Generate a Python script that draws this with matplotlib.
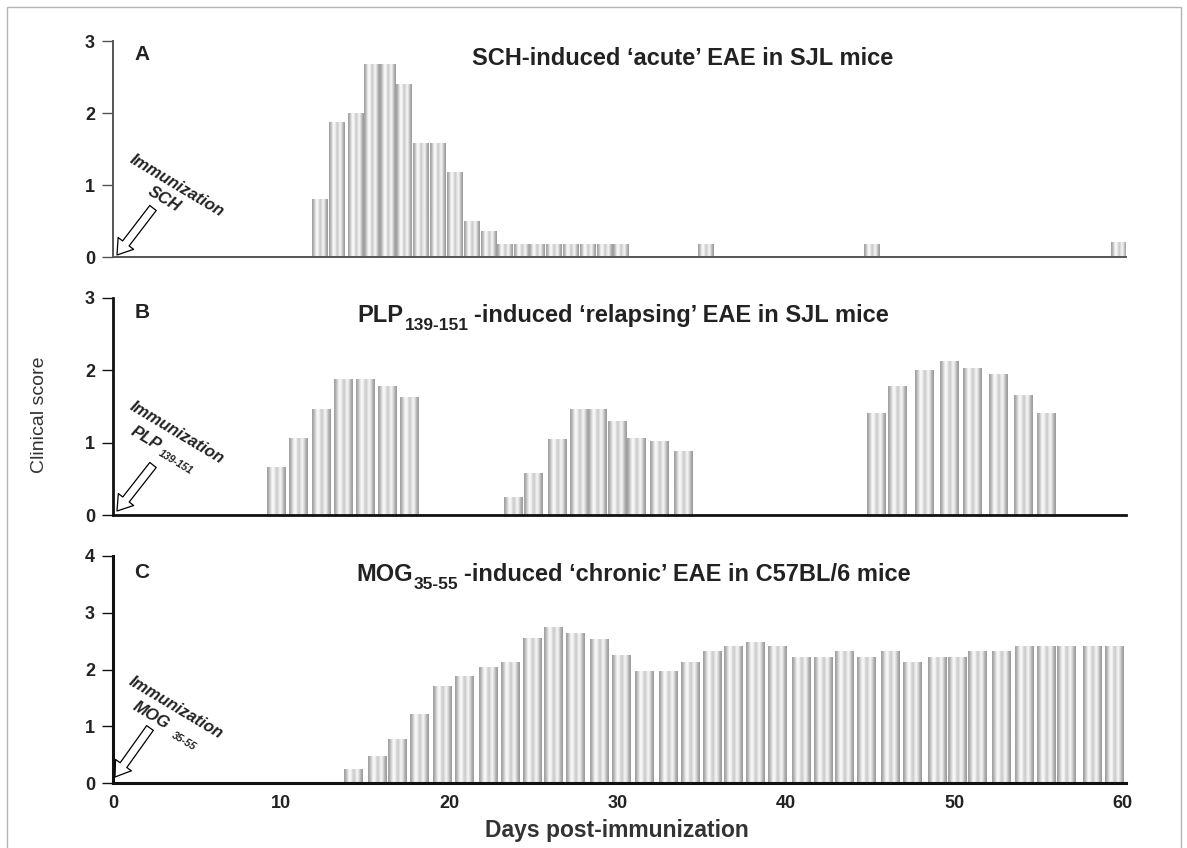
"""Clinical course of three EAE models (SCH acute, PLP relapsing, MOG chronic),
redrawn as three stacked bar panels sharing the day axis."""
import matplotlib
matplotlib.use("Agg")
import matplotlib.pyplot as plt
import numpy as np
from matplotlib.patches import Rectangle
from matplotlib.text import Annotation

# ── data ──────────────────────────────────────────────────────────────────────
# A: SCH-induced acute EAE in SJL mice
a_day = [12.3, 13.3, 14.4, 15.4, 16.3, 17.3, 18.3, 19.3, 20.3, 21.3, 22.3,
         23.3, 24.3, 25.2, 26.2, 27.2, 28.2, 29.2, 30.2, 35.2, 45.1, 59.8]
a_score = [0.8, 1.87, 2.0, 2.68, 2.68, 2.39, 1.58, 1.58, 1.17, 0.5, 0.35,
           0.17, 0.17, 0.17, 0.17, 0.17, 0.17, 0.17, 0.17, 0.17, 0.17, 0.2]

# B: PLP139-151-induced relapsing EAE in SJL mice
b_day = [9.7, 11.0, 12.4, 13.7, 15.0, 16.3, 17.6,
         23.8, 25.0, 26.4, 27.7, 28.8, 30.0, 31.1, 32.5, 33.9,
         45.4, 46.6, 48.2, 49.7, 51.1, 52.6, 54.1, 55.5]
b_score = [0.65, 1.06, 1.46, 1.88, 1.88, 1.78, 1.63,
           0.24, 0.58, 1.05, 1.46, 1.46, 1.29, 1.06, 1.01, 0.88,
           1.41, 1.78, 2.0, 2.12, 2.02, 1.94, 1.65, 1.4]

# C: MOG35-55-induced chronic EAE in C57BL/6 mice
c_day = [14.3, 15.7, 16.9, 18.2, 19.6, 20.9, 22.3, 23.6, 24.9, 26.2, 27.5,
         28.9, 30.2, 31.6, 33.0, 34.3, 35.6, 36.9, 38.2, 39.5, 40.9, 42.2,
         43.5, 44.8, 46.2, 47.5, 49.0, 50.2, 51.4, 52.8, 54.2, 55.5, 56.7,
         58.2, 59.5]
c_score = [0.23, 0.47, 0.76, 1.21, 1.7, 1.87, 2.04, 2.13, 2.54, 2.74, 2.64,
           2.53, 2.24, 1.96, 1.96, 2.13, 2.31, 2.4, 2.48, 2.4, 2.22, 2.22,
           2.31, 2.22, 2.31, 2.13, 2.22, 2.22, 2.31, 2.31, 2.4, 2.4, 2.4,
           2.4, 2.4]

x_ticks = [0, 10, 20, 30, 40, 50, 60]

INK = "#222222"
plt.rcParams.update({"font.family": ["Liberation Sans", "DejaVu Sans"]})

W, H = 1187, 848
# cylinder-like shading across each bar (grey level, left -> right)
SHADE = np.array([[0.64, 0.74, 0.88, 0.97, 0.95, 0.84, 0.80, 0.90, 0.95,
                   0.86, 0.72, 0.62]])


def px_axes(x0, y_bottom, y_top, x1=1125.6):
    """Axes placed by image pixel coordinates (y measured from top)."""
    return fig.add_axes([x0 / W, 1 - y_bottom / H, (x1 - x0) / W,
                         (y_bottom - y_top) / H])


def shaded_bars(ax, days, scores, width):
    for d, s in zip(days, scores):
        ax.imshow(SHADE, cmap="gray", vmin=0, vmax=1, aspect="auto",
                  interpolation="bilinear",
                  extent=(d - width / 2, d + width / 2, 0, s), zorder=2)


def immunization(ax, agent, sub, pos_imm, pos_agent, pos_sub, tail, tip):
    kw = dict(xycoords="axes pixels", rotation=-31, rotation_mode="anchor",
              ha="center", va="center", style="italic", fontweight="bold",
              color=INK)
    ax.annotate("Immunization", xy=pos_imm, fontsize=12, **kw)
    ax.annotate(agent, xy=pos_agent, fontsize=12, **kw)
    if sub:
        ax.annotate(sub, xy=pos_sub, fontsize=7.5, **kw)
    ax.annotate("", xy=tip, xycoords="axes pixels", xytext=tail,
                textcoords="axes pixels",
                arrowprops=dict(arrowstyle="simple,head_length=0.75,"
                                "head_width=1.0,tail_width=0.42",
                                mutation_scale=14, fc="white", ec="black",
                                lw=0.9, shrinkA=0, shrinkB=0))


def style(ax, ymax, spine_color, lw):
    ax.set_xlim(0, 60.2)
    ax.set_ylim(0, ymax)
    ax.set_yticks(range(0, ymax + 1))
    ax.set_xticks(x_ticks)
    for side in ("top", "right"):
        ax.spines[side].set_visible(False)
    for side in ("left", "bottom"):
        ax.spines[side].set_color(spine_color)
        ax.spines[side].set_linewidth(lw)
    ax.tick_params(axis="y", direction="out", length=8, width=1,
                   color=spine_color, pad=5, labelsize=13, labelcolor=INK)
    for t in ax.get_yticklabels():
        t.set_fontweight("bold")
    ax.tick_params(axis="x", length=0, pad=9)


def panel_letter(ax, letter, pos):
    ax.annotate(letter, xy=pos, xycoords="axes pixels", ha="center",
                va="center", fontsize=15, fontweight="bold", color=INK)


fig = plt.figure(figsize=(W / 100, H / 100), dpi=100)
fig.patches.append(Rectangle((7 / W, -0.01), (1181 - 7) / W, 1 - 7 / H + 0.01,
                             transform=fig.transFigure, fill=False,
                             ec="#b5b5b5", lw=1.0))

# ── panel A ───────────────────────────────────────────────────────────────────
axA = px_axes(113, 257, 41)
shaded_bars(axA, a_day, a_score, 0.9)
style(axA, 3, "#555555", 1.4)
axA.set_xticklabels([])
panel_letter(axA, "A", (29, 202))
immunization(axA, "SCH", None, (64, 71), (51, 58), None, (40, 49), (4, 2))

# ── panel B ───────────────────────────────────────────────────────────────────
axB = px_axes(113, 515, 298)
shaded_bars(axB, b_day, b_score, 1.1)
style(axB, 3, "#111111", 2.0)
axB.set_xticklabels([])
panel_letter(axB, "B", (29, 203))
immunization(axB, "PLP", "139-151", (64, 82), (33, 77), (63, 53),
             (40, 50), (4, 4))

# ── panel C ───────────────────────────────────────────────────────────────────
axC = px_axes(113, 783, 556)
shaded_bars(axC, c_day, c_score, 1.1)
style(axC, 4, "#111111", 2.2)
axC.set_xticklabels([str(t) for t in x_ticks], fontweight="bold",
                    fontsize=13, color=INK)
panel_letter(axC, "C", (29, 211))
immunization(axC, "MOG", "35-55", (63, 75), (38, 68), (71, 42),
             (37, 55), (2, 6))

# ── titles (subscripts chained onto the preceding word) ───────────────────────
TKW = dict(fontsize=17, fontweight="bold", color=INK)
fig.text(472 / W, 1 - 65 / H, "SCH-induced \u2018acute\u2019 EAE in SJL mice",
         ha="left", va="baseline", **TKW)


def sub_title(x_px, y_px, head, sub, rest):
    t1 = fig.text(x_px / W, 1 - y_px / H, head, ha="left", va="baseline",
                  **TKW)
    t2 = fig.add_artist(Annotation(
        sub, xy=(1, 0), xycoords=t1, xytext=(1, -4),
        textcoords="offset points", fontsize=12.5, fontweight="bold",
        color=INK, ha="left", va="bottom"))
    fig.add_artist(Annotation(
        rest, xy=(1, 0), xycoords=(t2, t1), xytext=(4, 0),
        textcoords="offset points", ha="left", va="bottom", **TKW))


sub_title(357, 322, "PLP", "139-151", "-induced \u2018relapsing\u2019 EAE in SJL mice")
sub_title(356, 581, "MOG", "35-55", "-induced \u2018chronic\u2019 EAE in C57BL/6 mice")

fig.text(40 / W, 1 - 415 / H, "Clinical score", rotation=90, ha="center",
         va="center", fontsize=14, color="#333333")
fig.text(617 / W, 1 - 830 / H, "Days post-immunization", ha="center",
         va="center", fontsize=16.5, fontweight="bold", color="#333333")

fig.savefig("out.png", dpi=100)
